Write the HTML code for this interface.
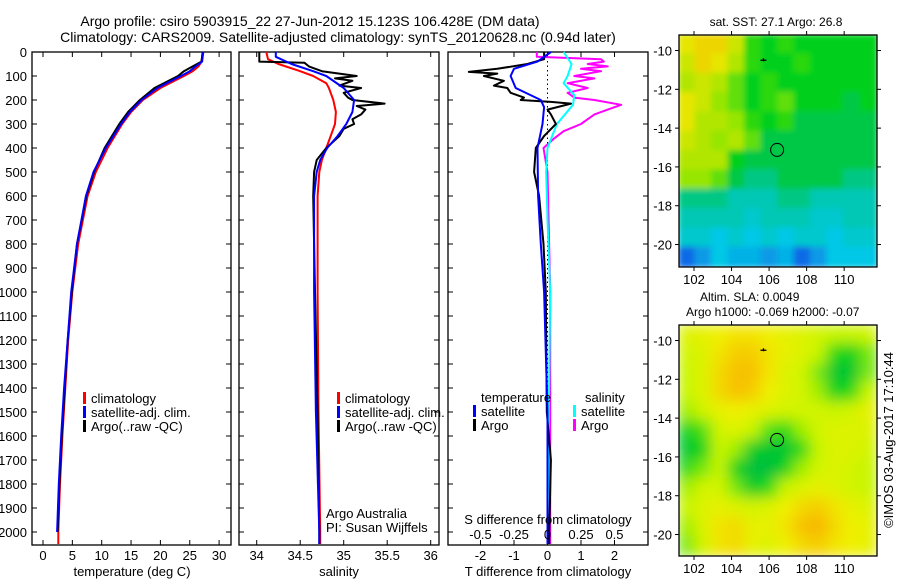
<!DOCTYPE html>
<html><head><meta charset="utf-8">
<style>
body{margin:0;background:#fff;}
svg{display:block;font-family:"Liberation Sans",sans-serif;}
text{fill:#000;}
</style></head>
<body>
<svg id="chart" width="900" height="580" viewBox="0 0 900 580" xmlns="http://www.w3.org/2000/svg">
<defs>
<filter id="blur1" x="0" y="0" width="1" height="1"><feGaussianBlur stdDeviation="7"/></filter>
<filter id="blur2" x="0" y="0" width="1" height="1"><feGaussianBlur stdDeviation="3"/></filter>
<clipPath id="clipTop"><rect x="679" y="35" width="198" height="232"/></clipPath>
<clipPath id="clipBot"><rect x="679" y="325" width="198" height="231"/></clipPath>
</defs>
<text x="310" y="26" font-size="14" text-anchor="middle">Argo profile: csiro 5903915_22 27-Jun-2012 15.123S 106.428E (DM data)</text>
<text x="338" y="42" font-size="14" text-anchor="middle">Climatology: CARS2009. Satellite-adjusted climatology: synTS_20120628.nc (0.94d later)</text>
<g id="g"></g>
<text transform="translate(893,440) rotate(-90)" font-size="13" text-anchor="middle">©IMOS 03-Aug-2017 17:10:44</text>
</svg>
<script>
// ---- depth axis ----
const depthTicks=[0,100,200,300,400,500,600,700,800,900,1000,1100,1200,1300,1400,1500,1600,1700,1800,1900,2000];
// ---- temperature panel ----
const tempTicks=[0,5,10,15,20,25,30];
const climTDepth=[0,40,60,80,100,150,200,250,300,400,500,600,800,1000,1200,1400,1600,1800,2000,2050];
const climT=[27.2,27,26.5,25.5,24,20,17,15,13.5,11,9,7.6,6,5,4.3,3.8,3.3,2.9,2.6,2.6];
const satTDepth=[0,40,60,80,100,150,200,250,300,400,500,600,800,1000,1200,1400,1600,1800,2000];
const satT=[27.3,27.1,26,25,23.5,19.5,16.8,14.8,13.3,10.7,8.6,7.3,5.8,4.8,4.2,3.6,3.1,2.7,2.4];
const argoT=[27.2,27,25.5,24,23,19,16.5,14.5,13,10.5,8.7,7.4,5.8,4.9,4.2,3.7,3.2,2.8,2.5];
// ---- salinity panel ----
const salTicks=[34,34.5,35,35.5,36];
const climSDepth=[0,30,50,80,100,130,150,200,250,300,350,400,450,500,600,800,1000,1500,2000,2050];
const climS=[34.11,34.13,34.25,34.5,34.65,34.8,34.83,34.88,34.91,34.9,34.85,34.8,34.75,34.72,34.7,34.7,34.7,34.71,34.73,34.73];
const satSDepth=[0,20,50,80,100,150,200,250,300,350,400,450,500,600,800,1000,1500,2000,2050];
const satS=[34.22,34.22,34.4,34.65,34.8,35.0,35.12,35.1,35.03,34.93,34.81,34.73,34.69,34.66,34.66,34.66,34.68,34.72,34.72];
const argoSDepth=[0,40,45,60,80,100,110,120,140,150,170,190,200,215,225,240,260,280,300,320,350,400,450,500,600,1000,1500,2000,2050];
const argoS=[34.03,34.03,34.55,34.6,34.75,35.15,34.9,35.1,34.95,35.2,35.0,35.05,35.1,35.47,35.15,35.25,35.2,35.1,35.12,35.0,34.95,34.8,34.69,34.66,34.65,34.67,34.7,34.72,34.72];
// ---- difference panel ----
const tDiffTicks=[-2,-1,0,1,2];
const sDiffTicks=[-0.5,-0.25,0,0.25,0.5];
const satTdDepth=[0,40,70,100,150,200,230,300,400,600,800,1000,1500,2000,2050];
const satTd=[0.1,-0.3,-1.0,-1.1,-0.95,-0.2,-0.1,-0.15,-0.3,-0.28,-0.2,-0.1,0,0,0];
const argoTdDepth=[0,30,50,70,83,90,100,120,140,150,170,190,200,208,215,240,260,300,350,400,500,600,800,1000,1500,1700,2000,2050];
const argoTd=[-0.1,-0.1,-0.6,-1.5,-2.35,-1.5,-1.9,-1.3,-1.6,-1.2,-1.1,-0.7,-0.8,0.1,0.7,0.0,0.1,0.25,-0.1,-0.35,-0.4,-0.25,-0.12,-0.05,-0.02,0.1,0.05,0.05];
const satSdDepth=[0,50,100,130,180,220,300,400,500,700,1000,2000,2050];
const satSd=[0.12,0.18,0.15,0.12,0.2,0.19,0.07,0.0,-0.01,0.0,0.02,0.0,0.0];
const argoSdDepth=[0,20,30,40,50,60,70,80,100,110,130,150,170,190,200,220,240,260,280,300,330,360,400,500,1000,2000,2050];
const argoSd=[-0.08,-0.08,0.4,0.42,0.3,0.45,0.25,0.4,0.2,0.35,0.15,0.3,0.15,0.2,0.35,0.55,0.45,0.35,0.3,0.25,0.12,0.05,-0.03,0.0,0.02,0.02,0.02];
// ---- maps ----
const lonTicks=[102,104,106,108,110];
const latTicks=[-10,-12,-14,-16,-18,-20];
const sstGrid=[
[.85,.9,.9,.8,.6,.55,.6,.55,.55,.55,.55,.55],
[.8,.9,.85,.75,.6,.55,.55,.6,.55,.55,.55,.55],
[.75,.8,.75,.65,.55,.6,.55,.55,.55,.55,.55,.55],
[.85,.8,.7,.65,.55,.6,.65,.55,.55,.55,.5,.55],
[.85,.75,.75,.7,.6,.55,.6,.5,.5,.5,.5,.5],
[.8,.75,.7,.75,.65,.5,.5,.5,.5,.5,.5,.5],
[.75,.75,.75,.55,.5,.5,.5,.5,.5,.5,.5,.5],
[.7,.7,.65,.5,.45,.45,.5,.5,.5,.5,.45,.45],
[.45,.45,.45,.4,.4,.4,.45,.45,.4,.4,.4,.4],
[.4,.4,.4,.4,.35,.4,.4,.4,.35,.35,.4,.4],
[.35,.35,.3,.35,.3,.35,.3,.35,.35,.3,.35,.35],
[.1,.2,.3,.25,.25,.2,.25,.1,.2,.3,.3,.3]];
const slaGrid=[
[.6,.65,.7,.75,.75,.7,.65,.6,.55,.5,.5,.55],
[.55,.6,.75,.85,.85,.75,.65,.6,.5,.3,.25,.4],
[.5,.6,.8,.9,.9,.75,.6,.55,.4,.15,.15,.4],
[.5,.6,.8,.9,.85,.7,.6,.55,.45,.25,.3,.5],
[.45,.55,.65,.7,.65,.6,.55,.55,.55,.5,.55,.65],
[.25,.35,.55,.6,.5,.35,.3,.45,.55,.6,.6,.6],
[.15,.25,.5,.45,.2,.15,.15,.3,.5,.6,.6,.55],
[.3,.4,.5,.25,.1,.1,.25,.45,.55,.6,.55,.5],
[.45,.55,.55,.4,.2,.3,.5,.6,.65,.6,.55,.5],
[.5,.6,.65,.6,.55,.6,.7,.8,.85,.75,.65,.6],
[.45,.6,.75,.8,.65,.65,.75,.9,.95,.8,.7,.65],
[.4,.55,.75,.8,.65,.6,.7,.8,.85,.75,.7,.65]];
const floatLon=106.428, floatLat=-15.123;

const NS='http://www.w3.org/2000/svg';
const G=document.getElementById('g');
function el(tag,attrs,parent){const e=document.createElementNS(NS,tag);for(const k in attrs)e.setAttribute(k,attrs[k]);(parent||G).appendChild(e);return e;}
function txt(x,y,s,size,anchor,parent){const t=el('text',{x:x,y:y,'font-size':size,'text-anchor':anchor||'start'},parent);t.textContent=s;return t;}
const PT=52,PB=545;
const yD=d=>PT+d*0.24;
function profile(xs,ys,vals,depths,color,w,name){
  let d='';
  for(let i=0;i<vals.length;i++){d+=(i?'L':'M')+xs(vals[i]).toFixed(1)+','+yD(depths[i]).toFixed(1);}
  const p=el('path',{d:d,fill:'none',stroke:color,'stroke-width':w,'stroke-linejoin':'round'});
  
  
}
function frame(x0,x1,name){
  const r=el('rect',{x:x0,y:PT,width:x1-x0,height:PB-PT,fill:'none',stroke:'#000','stroke-width':1.3});
  
  
}
function xticks(xs,ticks,labels,ly,name){
  ticks.forEach((v,i)=>{
    const x=xs(v);
    el('line',{x1:x,x2:x,y1:PT,y2:PT+5,stroke:'#000'});
    el('line',{x1:x,x2:x,y1:PB,y2:PB-5,stroke:'#000'});
    if(labels){const t=txt(x,ly,labels[i],13,'middle');
      
      }
  });
}
function legendItem(x,y,color,label,name){
  el('rect',{x:x,y:y-11,width:3,height:12,fill:color});
  const t=txt(x+8,y,label,13,'start');
  
  
}
// ---- Panel 1: temperature ----
const xT=v=>43+v*5.87;
frame(32,231,'temperature-panel');
depthTicks.forEach(d=>{
  el('line',{x1:32,x2:37,y1:yD(d),y2:yD(d),stroke:'#000'});
  el('line',{x1:231,x2:226,y1:yD(d),y2:yD(d),stroke:'#000'});
  const t=txt(27,yD(d)+5,String(d),13,'end');
  
  
});
xticks(xT,tempTicks,tempTicks.map(String),560,'temperature-tick-label');
profile(xT,yD,climT,climTDepth,'#f00',2,'temperature-climatology-line');
profile(xT,yD,argoT,satTDepth,'#000',2,'temperature-argo-line');
profile(xT,yD,satT,satTDepth,'#00f',2,'temperature-satellite-line');
txt(132,576,'temperature (deg C)',13,'middle');
legendItem(83,403,'#f00','climatology','legend-climatology');
legendItem(83,417,'#00f','satellite-adj. clim.','legend-satellite-adj');
legendItem(83,431,'#000','Argo(..raw -QC)','legend-argo');
// ---- Panel 2: salinity ----
const xS=v=>256.7+(v-34)*87;
frame(239,439,'salinity-panel');
depthTicks.forEach(d=>{
  el('line',{x1:239,x2:244,y1:yD(d),y2:yD(d),stroke:'#000'});
  el('line',{x1:439,x2:434,y1:yD(d),y2:yD(d),stroke:'#000'});
});
xticks(xS,salTicks,['34','34.5','35','35.5','36'],560,'salinity-tick-label');
profile(xS,yD,climS,climSDepth,'#f00',2,'salinity-climatology-line');
profile(xS,yD,argoS,argoSDepth,'#000',2,'salinity-argo-line');
profile(xS,yD,satS,satSDepth,'#00f',2,'salinity-satellite-line');
txt(339,576,'salinity',13,'middle');
legendItem(337,403,'#f00','climatology','legend-climatology-s');
legendItem(337,417,'#00f','satellite-adj. clim.','legend-satellite-adj-s');
legendItem(337,431,'#000','Argo(..raw -QC)','legend-argo-s');
txt(326,518,'Argo Australia',13);
txt(326,532,'PI: Susan Wijffels',13);
// ---- Panel 3: differences ----
const xTd=v=>547.5+v*33.5;
const xSd=v=>547.5+v*134;
frame(448,648,'difference-panel');
depthTicks.forEach(d=>{
  el('line',{x1:448,x2:453,y1:yD(d),y2:yD(d),stroke:'#000'});
  el('line',{x1:648,x2:643,y1:yD(d),y2:yD(d),stroke:'#000'});
});
xticks(xTd,tDiffTicks,tDiffTicks.map(String),560,'t-diff-tick-label');
el('line',{x1:xTd(0),x2:xTd(0),y1:PT,y2:PB,stroke:'#000','stroke-dasharray':'1.5,3'});
profile(xSd,yD,argoSd,argoSdDepth,'#f0f',2,'s-diff-argo-line');
profile(xSd,yD,satSd,satSdDepth,'#0ff',2,'s-diff-satellite-line');
profile(xTd,yD,argoTd,argoTdDepth,'#000',2,'t-diff-argo-line');
profile(xTd,yD,satTd,satTdDepth,'#00f',2,'t-diff-satellite-line');
txt(548,524,'S difference from climatology',13,'middle');
sDiffTicks.forEach(v=>{const t=txt(xSd(v),539,String(v),13,'middle');
  
  });
txt(548,576,'T difference from climatology',13,'middle');
txt(481,402,'temperature',13);
txt(585,402,'salinity',13);
legendItem(473,416,'#00f','satellite','legend-t-satellite');
legendItem(473,430,'#000','Argo','legend-t-argo');
legendItem(573,416,'#0ff','satellite','legend-s-satellite');
legendItem(573,430,'#f0f','Argo','legend-s-argo');
// ---- maps ----
function lerpC(stops,v){
  v=Math.max(0,Math.min(1,v));
  for(let i=1;i<stops.length;i++){if(v<=stops[i][0]){const a=stops[i-1],b=stops[i],t=(v-a[0])/(b[0]-a[0]);
    return 'rgb('+[1,2,3].map(k=>Math.round(a[k]+(b[k]-a[k])*t)).join(',')+')';}}
  const l=stops[stops.length-1];return 'rgb('+l[1]+','+l[2]+','+l[3]+')';
}
const sstStops=[[0,20,60,230],[0.3,0,200,230],[0.42,0,200,170],[0.5,0,200,70],[0.56,0,210,20],[0.7,150,230,0],[0.85,230,230,0],[1,250,180,0]];
const slaStops=[[0,0,180,80],[0.25,0,210,30],[0.5,200,245,0],[0.7,240,240,0],[1,250,170,0]];
function map(top,bot,latTop,grid,stops,clip,blur,name,xl){
  const L=679,R=877,lon0=101.2,lon1=111.75;
  const xm=lon=>L+(lon-lon0)*(R-L)/(lon1-lon0);
  const ym=lat=>top+(latTop-lat)*19.4;
  const g=el('g',{'clip-path':'url(#'+clip+')'});
  
  
  const inner=el('g',{filter:'url(#'+blur+')'},g);
  const rows=grid.length,cols=grid[0].length;
  const cw=(R-L)/cols,ch=(bot-top)/rows;
  for(let r=0;r<rows;r++)for(let c=0;c<cols;c++){
    const cell=el('rect',{x:L+c*cw-1,y:top+r*ch-1,width:cw+2,height:ch+2,fill:lerpC(stops,grid[r][c])},inner);
    
    
  }
  el('rect',{x:L,y:top,width:R-L,height:bot-top,fill:'none',stroke:'#000','stroke-width':1.3});
  lonTicks.forEach(v=>{const x=xm(v);
    el('line',{x1:x,x2:x,y1:top,y2:top-4,stroke:'#000'});
    el('line',{x1:x,x2:x,y1:bot,y2:bot+4,stroke:'#000'});
    if(xl){const t=txt(x,xl,String(v),13,'middle');
      
      }});
  latTicks.forEach(v=>{const y=ym(v);
    el('line',{x1:L,x2:L-4,y1:y,y2:y,stroke:'#000'});
    el('line',{x1:R,x2:R+4,y1:y,y2:y,stroke:'#000'});
    const t=txt(672,y+5,String(v),13,'end');
    
    });
  const c=el('circle',{cx:xm(floatLon),cy:ym(floatLat),r:6.5,fill:'none',stroke:'#000','stroke-width':1});
  
  
  el('path',{d:'M'+(xm(105.7)-3)+','+ym(-10.5)+'h6M'+xm(105.7)+','+(ym(-10.5)-2)+'v3',stroke:'#000','stroke-width':1.3});
}
map(35,267,-9.2,sstGrid,sstStops,'clipTop','blur2','sst-map',284);
map(325,556,-9.2,slaGrid,slaStops,'clipBot','blur1','sla-map',573);
txt(776,26,'sat. SST: 27.1 Argo: 26.8',12,'middle');
txt(700,301,'Altim. SLA: 0.0049',12);
txt(686,316,'Argo h1000: -0.069 h2000: -0.07',12);
</script>
</body></html>
